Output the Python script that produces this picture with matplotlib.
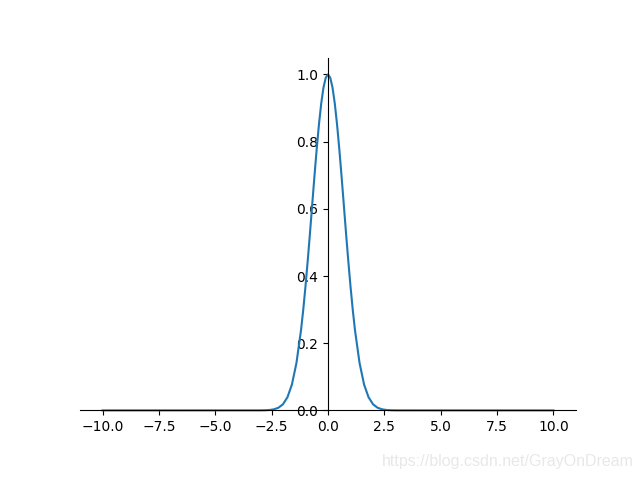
import matplotlib
matplotlib.use('Agg')
import matplotlib.pyplot as plt

# curve (symmetric bell)
xs = [-10.0, -3.0, -2.8, -2.6, -2.4, -2.2, -2.0, -1.8, -1.6, -1.4, -1.2,
      -1.1, -1.0, -0.9, -0.8, -0.7, -0.6, -0.5, -0.4, -0.3, -0.2, -0.1, 0.0,
      0.1, 0.2, 0.3, 0.4, 0.5, 0.6, 0.7, 0.8, 0.9, 1.0, 1.1, 1.2,
      1.4, 1.6, 1.8, 2.0, 2.2, 2.4, 2.6, 2.8, 3.0, 10.0]
ys = [0.0, 0.0001, 0.0004, 0.0012, 0.0032, 0.0079, 0.018, 0.039, 0.077, 0.141,
      0.237, 0.298, 0.368, 0.445, 0.527, 0.613, 0.698, 0.779, 0.852, 0.914,
      0.961, 0.990, 1.0,
      0.990, 0.961, 0.914, 0.852, 0.779, 0.698, 0.613, 0.527, 0.445, 0.368,
      0.298, 0.237,
      0.141, 0.077, 0.039, 0.018, 0.0079, 0.0032, 0.0012, 0.0004, 0.0001, 0.0]

fig = plt.figure(figsize=(6.4, 4.8), dpi=100)
ax = fig.add_subplot(111)
ax.plot(xs, ys)

ax.spines['right'].set_color('none')
ax.spines['top'].set_color('none')
ax.spines['bottom'].set_position(('data', 0))
ax.spines['left'].set_position(('data', 0))
ylo, yhi = ax.get_ylim()
ax.spines['left'].set_bounds(0, yhi)

fig.text(0.99, 0.022, 'https://blog.csdn.net/GrayOnDream', ha='right',
         va='bottom', color='#e8e8e8', fontsize=11.5,
         family=['Liberation Sans', 'DejaVu Sans'])

fig.savefig('out.png')
